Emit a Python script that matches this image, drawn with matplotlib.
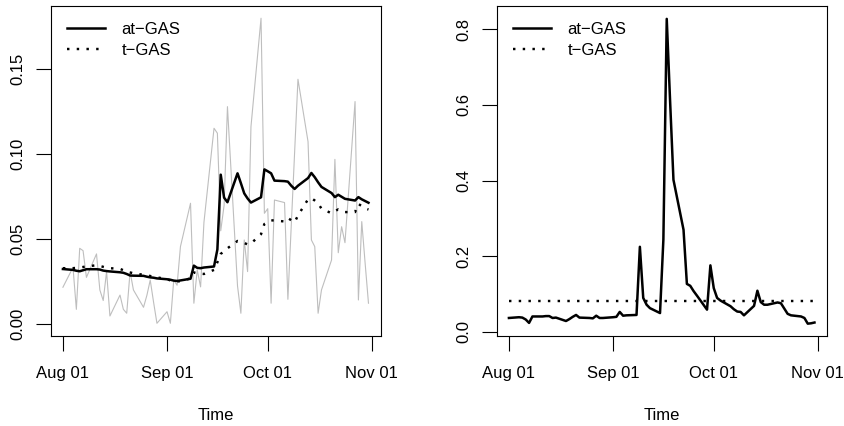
import numpy as np
import pandas as pd
import matplotlib
matplotlib.use("Agg")
import matplotlib.pyplot as plt
import matplotlib.dates as mdates

plt.rcParams['font.family'] = ['Liberation Sans', 'DejaVu Sans']
plt.rcParams['font.size'] = 12

# Trading days, Aug 1 - Oct 31 2008 (weekdays)
dates = pd.bdate_range("2008-08-01", "2008-10-31")

# Observed proxy (grey) and the two filtered volatility paths (left panel)
observed = [
    0.0218, 0.0335, 0.0088, 0.0447, 0.0433, 0.0276,
    0.0414, 0.0202, 0.0140, 0.0310, 0.0049,
    0.0172, 0.0088, 0.0065, 0.0310, 0.0202,
    0.0100, 0.0170, 0.0260, 0.0130, 0.0006,
    0.0074, 0.0006, 0.0260, 0.0230, 0.0457,
    0.0712, 0.0124, 0.0320, 0.0220, 0.0600,
    0.1153, 0.1124, 0.0550, 0.0700, 0.1280,
    0.0225, 0.0065, 0.0496, 0.0310, 0.1162,
    0.1800, 0.0653, 0.0680, 0.0124, 0.0731,
    0.0716, 0.0147, 0.0580, 0.1010, 0.1441,
    0.1074, 0.0496, 0.0457, 0.0065, 0.0202,
    0.0378, 0.0970, 0.0421, 0.0574, 0.0480,
    0.1310, 0.0143, 0.0604, 0.0360, 0.0124,
]
at_gas_left = [
    0.0325, 0.0320, 0.0315, 0.0312, 0.0318, 0.0324,
    0.0324, 0.0322, 0.0316, 0.0313, 0.0311,
    0.0306, 0.0303, 0.0296, 0.0287, 0.0286,
    0.0285, 0.0280, 0.0276, 0.0274, 0.0270,
    0.0265, 0.0262, 0.0257, 0.0255, 0.0258,
    0.0268, 0.0345, 0.0332, 0.0330, 0.0334,
    0.0340, 0.0440, 0.0880, 0.0745, 0.0718,
    0.0888, 0.0830, 0.0770, 0.0740, 0.0716,
    0.0747, 0.0911, 0.0900, 0.0888, 0.0845,
    0.0842, 0.0839, 0.0815, 0.0796, 0.0815,
    0.0860, 0.0890, 0.0865, 0.0835, 0.0808,
    0.0772, 0.0748, 0.0762, 0.0750, 0.0738,
    0.0728, 0.0748, 0.0735, 0.0725, 0.0715,
]
t_gas_left = [
    0.0330, 0.0330, 0.0332, 0.0334, 0.0337, 0.0341,
    0.0347, 0.0343, 0.0338, 0.0333, 0.0330,
    0.0326, 0.0318, 0.0312, 0.0305, 0.0300,
    0.0291, 0.0289, 0.0284, 0.0280, 0.0276,
    0.0266, 0.0258, 0.0254, 0.0252, 0.0254,
    0.0270, 0.0305, 0.0300, 0.0298, 0.0296,
    0.0320, 0.0365, 0.0414, 0.0430, 0.0447,
    0.0490, 0.0485, 0.0478, 0.0470, 0.0475,
    0.0530, 0.0590, 0.0600, 0.0612, 0.0610,
    0.0605, 0.0625, 0.0612, 0.0600, 0.0640,
    0.0735, 0.0742, 0.0728, 0.0712, 0.0680,
    0.0653, 0.0665, 0.0676, 0.0668, 0.0660,
    0.0660, 0.0708, 0.0695, 0.0682, 0.0675,
]

# Right panel: filtered series and the constant t-GAS level
at_gas_right = [
    0.037, 0.039, 0.038, 0.033, 0.024, 0.041,
    0.041, 0.042, 0.042, 0.037, 0.038,
    0.029, 0.034, 0.040, 0.045, 0.038,
    0.037, 0.036, 0.043, 0.037, 0.037,
    0.039, 0.040, 0.053, 0.043, 0.044,
    0.045, 0.225, 0.090, 0.072, 0.063,
    0.050, 0.244, 0.827, 0.610, 0.402,
    0.270, 0.127, 0.122, 0.108, 0.096,
    0.059, 0.176, 0.116, 0.090, 0.083,
    0.068, 0.060, 0.054, 0.053, 0.044,
    0.069, 0.109, 0.079, 0.072, 0.072,
    0.078, 0.076, 0.062, 0.048, 0.044,
    0.041, 0.037, 0.022, 0.023, 0.025,
]
t_gas_level = 0.081

W, H = 845, 426
fig = plt.figure(figsize=(W / 100, H / 100), dpi=100)
ax1 = fig.add_axes([50.7 / W, 1 - 335.7 / H, 330 / W, 329.7 / H])
ax2 = fig.add_axes([496.7 / W, 1 - 335.7 / H, 330 / W, 329.7 / H])

pad_days = pd.Timedelta(days=3.64)
xlim = (dates[0] - pad_days, dates[-1] + pad_days)
ticks = pd.to_datetime(["2008-08-01", "2008-09-01", "2008-10-01", "2008-11-01"])

ax1.plot(dates, observed, color="#BEBEBE", lw=0.8)
ax1.plot(dates, at_gas_left, color="black", lw=1.8, label="at\u2212GAS", solid_joinstyle="round")
ax1.plot(dates, t_gas_left, color="black", lw=1.75, ls=(0, (1, 3)), label="t\u2212GAS")
ax1.set_ylim(-0.0067, 0.1872)
ax1.set_yticks([0.0, 0.05, 0.10, 0.15])
ax1.set_yticklabels(["0.00", "0.05", "0.10", "0.15"])

ax2.plot(dates, at_gas_right, color="black", lw=1.8, label="at\u2212GAS", solid_joinstyle="round")
ax2.plot(dates, [t_gas_level] * len(dates), color="black", lw=1.75, ls=(0, (1, 3)), label="t\u2212GAS")
ax2.set_ylim(-0.0098, 0.861)
ax2.set_yticks([0.0, 0.2, 0.4, 0.6, 0.8])
ax2.set_yticklabels(["0.0", "0.2", "0.4", "0.6", "0.8"])

for ax in (ax1, ax2):
    ax.set_xlim(*xlim)
    ax.set_xticks(ticks)
    ax.xaxis.set_major_formatter(mdates.DateFormatter("%b %d"))
    ax.tick_params(axis="x", length=11, width=0.8, pad=11, labelsize=12)
    ax.tick_params(axis="y", length=11, width=0.8, pad=7, labelsize=12)
    for lab in ax.get_yticklabels():
        lab.set_rotation(90)
        lab.set_va("center")
    for s in ax.spines.values():
        s.set_linewidth(0.8)
    ax.set_xlabel("Time", labelpad=19)
    leg = ax.legend(loc="upper left", frameon=False, handlelength=2.3,
                    handletextpad=1.0, labelspacing=0.35,
                    borderaxespad=0.55, fontsize=12)

fig.savefig("out.png", dpi=100)
